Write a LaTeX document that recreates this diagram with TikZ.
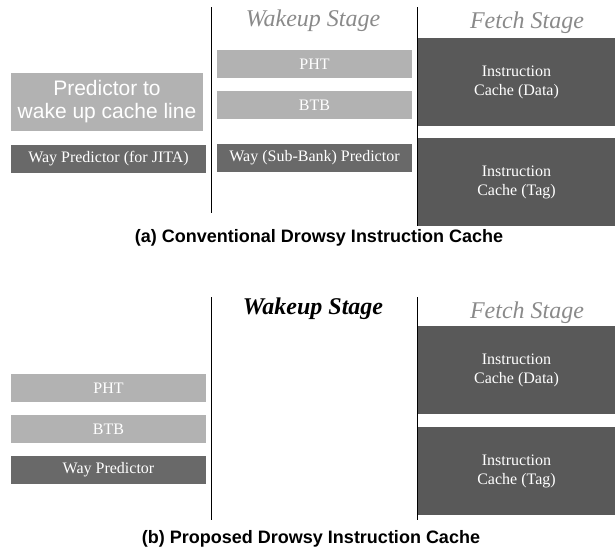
\documentclass[tikz,border=0pt]{standalone}
\usepackage{fontspec}
\setmainfont{Liberation Serif}
\setsansfont{Liberation Sans}

\definecolor{lightbox}{HTML}{B2B2B2}
\definecolor{darkbox}{HTML}{696969}
\definecolor{cachebox}{HTML}{595959}
\definecolor{stagegray}{HTML}{8A8A8A}

\tikzset{
  unit/.style={rectangle, inner sep=0pt, text=white, align=center,
    minimum width=195pt, minimum height=28pt, font=\fontsize{16}{19}\selectfont},
  light/.style={unit, fill=lightbox},
  dark/.style={unit, fill=darkbox},
  cache/.style={unit, fill=cachebox, minimum width=197pt, minimum height=88pt},
  stage/.style={font=\fontsize{24}{28}\selectfont\itshape, text=stagegray},
  caption/.style={font=\fontsize{18}{21}\selectfont\sffamily\bfseries},
  divider/.style={black, line width=0.9pt}
}

\begin{document}
\begin{tikzpicture}[x=1pt, y=-1pt]
  \useasboundingbox (0,0) rectangle (615,549);

  % (a) conventional
  \draw[divider] (211,7) -- (211,213);
  \draw[divider] (417,7) -- (417,226);
  \node[stage] (wakeA) at (313,21) {Wakeup Stage};
  \node[stage] (fetchA) at (527,23) {Fetch Stage};

  \node[light, minimum width=192pt, minimum height=58pt,
        font=\fontsize{21}{23}\sffamily] (predA) at (107,102) {Predictor to\\wake up cache line};
  \node[dark] (jitaA) at (108.5,159) {Way Predictor (for JITA)};

  \node[light] (phtA) at (314.5,64) {PHT};
  \node[light] (btbA) at (314.5,105) {BTB};
  \node[dark] (wayA) at (314.5,158) {Way (Sub-Bank) Predictor};

  \node[cache] (dataA) at (516.5,82) {Instruction\\Cache (Data)};
  \node[cache] (tagA) at (516.5,182) {Instruction\\Cache (Tag)};

  \node[caption] (capA) at (319,238) {(a) Conventional Drowsy Instruction Cache};

  % (b) proposed
  \draw[divider] (211,297) -- (211,520);
  \draw[divider] (417,297) -- (417,520);
  \node[stage, text=black, font=\fontsize{24}{28}\selectfont\bfseries\itshape] (wakeB) at (313,309) {Wakeup Stage};
  \node[stage] (fetchB) at (527,313) {Fetch Stage};

  \node[light] (phtB) at (108.5,388) {PHT};
  \node[light] (btbB) at (108.5,429) {BTB};
  \node[dark] (wayB) at (108.5,470) {Way Predictor};

  \node[cache] (dataB) at (516.5,370) {Instruction\\Cache (Data)};
  \node[cache] (tagB) at (516.5,471) {Instruction\\Cache (Tag)};

  \node[caption] (capB) at (311,539) {(b) Proposed Drowsy Instruction Cache};
\end{tikzpicture}
\end{document}
